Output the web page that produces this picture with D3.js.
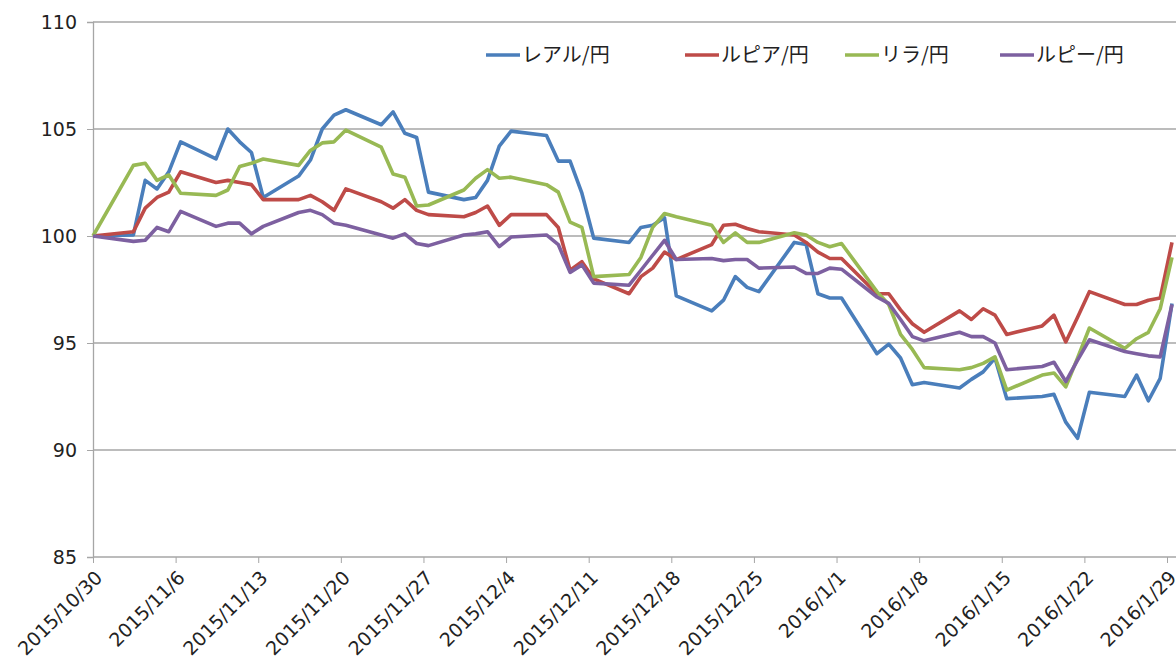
<!DOCTYPE html>
<html><head><meta charset="utf-8">
<script src="https://cdn.jsdelivr.net/npm/d3@7"></script>
<style>body{margin:0;background:#fff}svg{font-family:"Noto Sans CJK JP","Liberation Sans",sans-serif}</style>
</head><body><svg id="c" width="1176" height="666"></svg>
<script>
const dates = ["2015-10-30","2015-11-02","2015-11-03","2015-11-04","2015-11-05","2015-11-06","2015-11-09","2015-11-10","2015-11-11","2015-11-12","2015-11-13","2015-11-16","2015-11-17","2015-11-18","2015-11-19","2015-11-20","2015-11-23","2015-11-24","2015-11-25","2015-11-26","2015-11-27","2015-11-30","2015-12-01","2015-12-02","2015-12-03","2015-12-04","2015-12-07","2015-12-08","2015-12-09","2015-12-10","2015-12-11","2015-12-14","2015-12-15","2015-12-16","2015-12-17","2015-12-18","2015-12-21","2015-12-22","2015-12-23","2015-12-24","2015-12-25","2015-12-28","2015-12-29","2015-12-30","2015-12-31","2016-01-01","2016-01-04","2016-01-05","2016-01-06","2016-01-07","2016-01-08","2016-01-11","2016-01-12","2016-01-13","2016-01-14","2016-01-15","2016-01-18","2016-01-19","2016-01-20","2016-01-21","2016-01-22","2016-01-25","2016-01-26","2016-01-27","2016-01-28","2016-01-29"];
const real = [100,100.05,102.6,102.2,103.0,104.4,103.6,105.0,104.4,103.9,101.8,102.8,103.55,105.0,105.65,105.9,105.2,105.8,104.8,104.6,102.05,101.7,101.8,102.6,104.2,104.9,104.7,103.5,103.5,102.0,99.9,99.7,100.4,100.5,100.85,97.2,96.5,97.0,98.1,97.6,97.4,99.7,99.6,97.3,97.1,97.1,94.5,94.95,94.3,93.05,93.15,92.9,93.3,93.65,94.3,92.4,92.5,92.6,91.3,90.55,92.7,92.5,93.5,92.3,93.35,96.85];
const rupiah = [100,100.2,101.3,101.8,102.05,103.0,102.5,102.6,102.5,102.4,101.7,101.7,101.9,101.6,101.2,102.2,101.6,101.3,101.7,101.2,101.0,100.9,101.1,101.4,100.5,101.0,101.0,100.4,98.4,98.8,98.0,97.3,98.1,98.5,99.25,98.9,99.6,100.5,100.55,100.35,100.2,100.05,99.7,99.25,98.95,98.95,97.3,97.3,96.55,95.9,95.5,96.5,96.1,96.6,96.3,95.4,95.8,96.3,95.05,96.2,97.4,96.8,96.8,97.0,97.1,99.7];
const lira = [100,103.3,103.4,102.6,102.85,102.0,101.9,102.15,103.25,103.4,103.6,103.3,104.0,104.35,104.4,104.95,104.15,102.9,102.75,101.4,101.45,102.15,102.7,103.1,102.7,102.75,102.4,102.05,100.65,100.4,98.1,98.2,99.0,100.4,101.05,100.9,100.5,99.7,100.15,99.7,99.7,100.15,100.05,99.7,99.5,99.65,97.4,96.8,95.4,94.7,93.85,93.75,93.85,94.05,94.35,92.8,93.5,93.6,92.95,94.3,95.7,94.75,95.2,95.5,96.6,99.0];
const rupee = [100,99.75,99.8,100.4,100.2,101.15,100.45,100.6,100.6,100.1,100.45,101.1,101.2,101.0,100.6,100.5,100.05,99.9,100.1,99.65,99.55,100.05,100.1,100.2,99.5,99.95,100.05,99.6,98.3,98.65,97.8,97.7,98.4,99.1,99.8,98.9,98.95,98.85,98.9,98.9,98.5,98.55,98.25,98.25,98.5,98.45,97.15,96.85,96.1,95.3,95.1,95.5,95.3,95.3,95.0,93.75,93.9,94.1,93.2,94.2,95.15,94.6,94.5,94.4,94.35,96.8];
const names = ["レアル/円","ルピア/円","リラ/円","ルピー/円"];
const colors = ["#4a7ebb","#be4b48","#98b954","#7d60a0"];
const yTicks = [85,90,95,100,105,110];

const parse = d3.timeParse("%Y-%m-%d");
const D = dates.map(parse);
const svg = d3.select("#c");
const L=93, T=22, B=557;
const x = d3.scaleTime().domain([parse("2015-10-30"),parse("2016-01-29")]).range([L,1167]);
const y = d3.scaleLinear().domain([85,110]).range([B,T]);

svg.append("g").selectAll("line").data(yTicks.slice(1)).join("line")
 .attr("x1",L).attr("x2",1176).attr("y1",d=>y(d)).attr("y2",d=>y(d)).attr("stroke","#a6a6a6").attr("stroke-width",1.3);

const ya = svg.append("g").attr("transform",`translate(${L},0)`).call(d3.axisLeft(y).tickValues(yTicks).tickSize(6).tickPadding(10));
ya.select(".domain").attr("stroke","#a6a6a6").attr("stroke-width",1.3);
ya.selectAll(".tick line").attr("stroke","#a6a6a6");
ya.selectAll("text").attr("font-size",19).attr("fill","#222").attr("font-family","DejaVu Sans, sans-serif");

const xt = d3.timeDay.range(parse("2015-10-30"),parse("2016-01-30"),7);
const xa = svg.append("g").attr("transform",`translate(0,${B})`).call(d3.axisBottom(x).tickValues(xt).tickSize(6).tickFormat(d3.timeFormat("%Y/%-m/%-d")));
xa.select(".domain").attr("stroke","#a6a6a6").attr("stroke-width",1.3).attr("d",`M${L},0H1176`);
xa.selectAll(".tick line").attr("stroke","#a6a6a6");
xa.selectAll("text").attr("font-size",19).attr("fill","#222").attr("font-family","DejaVu Sans, sans-serif")
 .attr("text-anchor","end").attr("y",0).attr("dy","0").attr("transform","translate(10,22) rotate(-45)");

const line = d3.line().x((d,i)=>x(D[i])+(i?5:0)).y(d=>y(d));
[real,rupiah,lira,rupee].forEach((s,k)=>{
 svg.append("path").attr("d",line(s)).attr("fill","none").attr("stroke",colors[k]).attr("stroke-width",3.6).attr("stroke-linejoin","round");
});

const lx=[486,685,845,1000];
names.forEach((n,k)=>{
 svg.append("line").attr("x1",lx[k]).attr("x2",lx[k]+34).attr("y1",55).attr("y2",55).attr("stroke",colors[k]).attr("stroke-width",3.6);
 svg.append("text").attr("x",lx[k]+36).attr("y",62).attr("font-size",20).attr("fill","#222").text(n);
});
</script></body></html>
